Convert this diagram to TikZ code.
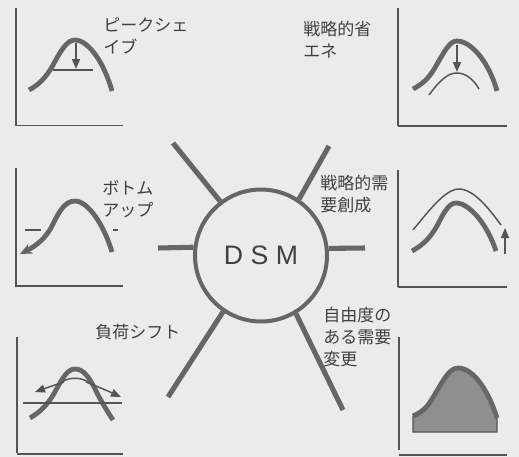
\documentclass[tikz,border=0pt]{standalone}
\usepackage{fontspec}
\setmainfont{Liberation Sans}
\newfontfamily\jpfont{Noto Sans CJK JP}
\usetikzlibrary{arrows.meta}
\definecolor{bg}{gray}{0.92}
\definecolor{curvec}{gray}{0.40}
\definecolor{axisc}{gray}{0.33}
\definecolor{ink}{gray}{0.25}
\definecolor{fillg}{gray}{0.56}
\tikzset{
  axisline/.style={draw=axisc, line width=1.4pt},
  thickcurve/.style={draw=curvec, line width=3.6pt},
  thincurve/.style={draw=axisc, line width=1.1pt},
  spoke/.style={draw=curvec, line width=3.8pt},
  tip/.style={-{Triangle[length=7.5pt,width=6pt]}},
  bigtip/.style={-{Stealth[length=9pt,width=8pt,inset=3pt]}},
  jlabel/.style={font=\jpfont\fontsize{12.75pt}{16.5pt}\selectfont, text=ink, align=left, inner sep=0pt, anchor=north west},
}
\begin{document}
\begin{tikzpicture}[x=0.75pt,y=-0.75pt]
\fill[bg] (0,0) rectangle (519,457);
\useasboundingbox (0,0) rectangle (519,457);

% ---------- centre ----------
\node[circle, draw=curvec, line width=3pt, minimum size=99pt, inner sep=0pt,
      font=\fontsize{20pt}{24pt}\selectfont, text=ink] (dsm) at (261,255.5) {D S M};
\coordinate (stl) at (173,143);
\coordinate (str) at (329,146);
\coordinate (sl)  at (158,248);
\coordinate (sr)  at (365,248);
\coordinate (sbl) at (168,397);
\coordinate (sbr) at (343,410);
\draw[spoke] (dsm.127.8) -- (stl);
\draw[spoke] (dsm.56.3) -- (str);
\draw[spoke] (dsm.173.6) -- (sl);
\draw[spoke] (dsm.6.4) -- (sr);
\draw[spoke] (dsm.-124.6) -- (sbl);
\draw[spoke] (dsm.-59.4) -- (sbr);

% ---------- panel 1: peak shave ----------
\draw[axisline] (16,8) -- (16,125.5);
\draw[axisline] (15,125.5) -- (123,125.5);
\draw[thickcurve] (29,90) .. controls (40,84) and (45,78) .. (52,67)
  .. controls (61,50) and (67,40) .. (75,40)
  .. controls (88,40) and (104,62) .. (112,91);
\draw[thincurve] (53,70) -- (93,70);
\draw[thincurve, tip] (76,43) -- (76,69);
\node[jlabel] (l1) at (103,17) {ピークシェ\\イブ};

% ---------- panel 2: strategic conservation ----------
\draw[axisline] (398,8) -- (398,126);
\draw[axisline] (398,126) -- (507,126);
\draw[thickcurve] (413,89) .. controls (424,83) and (429,78) .. (436,66)
  .. controls (445,50) and (450,41) .. (457,41)
  .. controls (471,41) and (489,62) .. (497,91);
\draw[thincurve] (429,95) .. controls (440,80) and (448,73) .. (457,73)
  .. controls (466,73) and (474,80) .. (479,89);
\draw[thincurve, tip] (457,45) -- (457,72);
\node[jlabel] (l2) at (303,21) {戦略的省\\エネ};

% ---------- panel 3: bottom up ----------
\draw[axisline] (16,168) -- (16,286);
\draw[axisline] (15,286) -- (123,286);
\draw[thickcurve, bigtip] (112,252) .. controls (104,225) and (88,201) .. (75,201)
  .. controls (64,201) and (58,214) .. (52,226)
  .. controls (46,238) and (36,246) .. (20,254);
\draw[thincurve] (25,230) -- (41,230);
\draw[thincurve] (113,230) -- (118,230);
\node[jlabel] (l3) at (102,180) {ボトム\\アップ};

% ---------- panel 4: strategic demand creation ----------
\draw[axisline] (398,170) -- (398,287);
\draw[axisline] (398,287) -- (507,287);
\draw[thickcurve] (412,251) .. controls (423,245) and (430,238) .. (437,226)
  .. controls (444,212) and (449,203) .. (456,203)
  .. controls (470,203) and (488,226) .. (496,251);
\draw[thincurve] (413,230) .. controls (428,212) and (445,189) .. (459,189)
  .. controls (474,189) and (490,210) .. (501,225);
\draw[thincurve, tip] (505,254) -- (505,228);
\node[jlabel] (l4) at (320,175) {戦略的需\\要創成};

% ---------- panel 5: load shift ----------
\draw[axisline] (17,337) -- (17,453);
\draw[axisline] (17,454) -- (123,454);
\draw[thickcurve] (30,418) .. controls (40,412) and (48,405) .. (56,390)
  .. controls (63,377) and (68,369) .. (75,369)
  .. controls (84,369) and (90,378) .. (98,395)
  .. controls (104,406) and (109,414) .. (113,420);
\draw[thincurve] (23,403) -- (122,403);
\draw[thincurve] (62,382) .. controls (69,377) and (81,377) .. (88,382);
\draw[thincurve, tip] (64,382) .. controls (55,385) and (46,388) .. (35,392);
\draw[thincurve, tip] (86,382) .. controls (96,386) and (108,391) .. (121,397);
\node[jlabel] (l5) at (95,324) {負荷シフト};

% ---------- panel 6: flexible demand change ----------
\draw[axisline] (399,337) -- (399,450);
\draw[axisline] (399,455) -- (507,455);
\filldraw[fill=fillg, draw=axisc, line width=0.8pt] (413,432) -- (413,416)
  .. controls (418,414) and (423,411) .. (428,405)
  .. controls (440,388) and (447,368) .. (458,368)
  .. controls (475,368) and (490,395) .. (497,418) -- (497,432) -- cycle;
\draw[thickcurve] (413,416) .. controls (418,414) and (423,411) .. (428,405)
  .. controls (440,388) and (447,368) .. (458,368)
  .. controls (475,368) and (490,395) .. (497,418);
\node[jlabel] (l6) at (323,307) {自由度の\\ある需要\\変更};
\end{tikzpicture}
\end{document}
